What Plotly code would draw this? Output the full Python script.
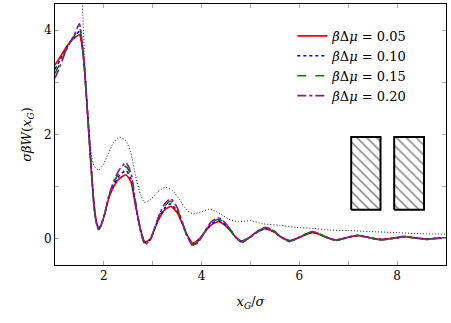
import plotly.graph_objects as go

x = [1.0, 1.1, 1.2, 1.3, 1.4, 1.5, 1.55, 1.6, 1.65, 1.7, 1.75, 1.8, 1.85, 1.9, 2.0, 2.1, 2.2, 2.3,
     2.45, 2.55, 2.65, 2.75, 2.84, 2.95, 3.05, 3.15, 3.25, 3.37, 3.5, 3.6, 3.7, 3.82, 3.95, 4.1,
     4.2, 4.35, 4.5, 4.6, 4.7, 4.82, 5.0, 5.1, 5.3, 5.5, 5.6, 5.8, 6.0, 6.1, 6.27, 6.45, 6.55,
     6.75, 6.95, 7.05, 7.2, 7.4, 7.5, 7.68, 7.9, 8.0, 8.15, 8.35, 8.45, 8.6, 8.8, 9.0]

w_005 = [3.33, 3.48, 3.63, 3.76, 3.85, 3.91, 3.72, 3.3, 2.65, 1.95, 1.25, 0.65, 0.32, 0.2, 0.42,
         0.78, 1.0, 1.14, 1.23, 1.1, 0.62, 0.18, -0.06, 0.0, 0.22, 0.42, 0.56, 0.62, 0.5, 0.3,
         0.08, -0.08, 0.0, 0.17, 0.27, 0.33, 0.24, 0.14, 0.03, -0.04, 0.04, 0.11, 0.19, 0.12,
         0.05, -0.03, 0.03, 0.07, 0.12, 0.07, 0.03, -0.02, 0.02, 0.04, 0.06, 0.03, 0.01, -0.01,
         0.01, 0.02, 0.04, 0.02, 0.01, 0.0, 0.01, 0.02]
w_010 = [3.25, 3.42, 3.6, 3.76, 3.87, 3.98, 3.76, 3.3, 2.63, 1.93, 1.23, 0.63, 0.3, 0.19, 0.42,
         0.8, 1.03, 1.19, 1.31, 1.16, 0.65, 0.17, -0.07, -0.01, 0.23, 0.45, 0.6, 0.67, 0.53, 0.31,
         0.07, -0.1, -0.02, 0.18, 0.29, 0.35, 0.26, 0.15, 0.03, -0.05, 0.04, 0.11, 0.2, 0.13,
         0.05, -0.04, 0.03, 0.07, 0.13, 0.07, 0.03, -0.02, 0.02, 0.04, 0.06, 0.03, 0.01, -0.01,
         0.01, 0.02, 0.04, 0.02, 0.01, 0.0, 0.01, 0.02]
w_015 = [3.17, 3.36, 3.57, 3.75, 3.9, 4.05, 3.78, 3.3, 2.62, 1.92, 1.22, 0.62, 0.29, 0.18, 0.42,
         0.81, 1.07, 1.25, 1.39, 1.22, 0.68, 0.16, -0.09, -0.02, 0.24, 0.48, 0.64, 0.72, 0.57, 0.33,
         0.06, -0.12, -0.03, 0.19, 0.31, 0.38, 0.28, 0.16, 0.03, -0.06, 0.04, 0.12, 0.21, 0.14,
         0.05, -0.05, 0.03, 0.08, 0.14, 0.08, 0.03, -0.03, 0.02, 0.05, 0.07, 0.03, 0.01, -0.02,
         0.01, 0.03, 0.05, 0.02, 0.01, -0.01, 0.01, 0.02]
w_020 = [3.08, 3.3, 3.55, 3.75, 3.92, 4.12, 3.8, 3.3, 2.6, 1.9, 1.2, 0.6, 0.28, 0.17, 0.42,
         0.82, 1.1, 1.3, 1.46, 1.28, 0.7, 0.15, -0.1, -0.02, 0.24, 0.5, 0.68, 0.77, 0.6, 0.34,
         0.06, -0.13, -0.04, 0.2, 0.33, 0.4, 0.29, 0.16, 0.03, -0.07, 0.04, 0.12, 0.22, 0.14,
         0.05, -0.05, 0.03, 0.08, 0.14, 0.08, 0.03, -0.03, 0.02, 0.05, 0.07, 0.03, 0.01, -0.02,
         0.01, 0.03, 0.05, 0.02, 0.01, -0.01, 0.01, 0.02]

x_ref = [1.5, 1.56, 1.6, 1.65, 1.7, 1.75, 1.8, 1.9, 2.0, 2.1, 2.2, 2.32, 2.45, 2.55, 2.65, 2.75,
         2.83, 2.95, 3.1, 3.26, 3.4, 3.55, 3.7, 3.83, 4.0, 4.16, 4.35, 4.55, 4.75, 5.0, 5.25,
         5.6, 5.94, 6.3, 6.62, 7.0, 7.44, 8.0, 8.5, 9.0]
w_ref = [5.5, 4.48, 3.6, 2.7, 2.05, 1.6, 1.4, 1.32, 1.45, 1.65, 1.85, 1.95, 1.88, 1.65, 1.2, 0.85,
         0.7, 0.75, 0.9, 0.99, 0.93, 0.75, 0.55, 0.48, 0.52, 0.57, 0.5, 0.38, 0.33, 0.35, 0.29,
         0.26, 0.22, 0.2, 0.17, 0.16, 0.14, 0.12, 0.1, 0.09]

labels = ["<i>β</i>Δ<i>μ</i> = 0.05", "<i>β</i>Δ<i>μ</i> = 0.10",
          "<i>β</i>Δ<i>μ</i> = 0.15", "<i>β</i>Δ<i>μ</i> = 0.20"]
series = [w_005, w_010, w_015, w_020]
colors = ["#ff0000", "#0000ff", "#008000", "#8b1a8b"]
dashes = ["solid", "dot", "dash", "dashdot"]

# inset illustration: two hatched slabs
slab_x = [[7.06, 7.66], [7.94, 8.55]]
slab_y = [0.56, 1.95]

x_ticks = [1, 2, 3, 4, 5, 6, 7, 8, 9]
x_ticktext = ["", "2", "", "4", "", "6", "", "8", ""]
y_ticks = [0, 1, 2, 3, 4]
y_ticktext = ["0", "", "2", "", "4"]

FONT = "DejaVu Serif"

fig = go.Figure()
fig.add_trace(go.Scatter(x=x_ref, y=w_ref, mode="lines", showlegend=False,
                         line=dict(color="#222222", width=1, dash="1px,2px", shape="spline", smoothing=0.6)))
for ys, lab, c, d in zip(series, labels, colors, dashes):
    fig.add_trace(go.Scatter(x=x, y=ys, mode="lines", name=lab,
                             line=dict(color=c, width=1.6, dash=d, shape="spline", smoothing=0.6)))

for (x0, x1) in slab_x:
    fig.add_trace(go.Scatter(x=[x0, x1, x1, x0, x0], y=[slab_y[0], slab_y[0], slab_y[1], slab_y[1], slab_y[0]],
                             mode="lines", fill="toself", showlegend=False, hoverinfo="skip",
                             fillcolor="white",
                             fillpattern=dict(shape="\\", fgcolor="black", bgcolor="white", size=7, solidity=0.22),
                             line=dict(color="black", width=2)))

fig.update_layout(
    width=451, height=323,
    margin=dict(l=55, r=5, t=4, b=58),
    paper_bgcolor="white", plot_bgcolor="white",
    font=dict(family=FONT, size=12, color="black"),
    legend=dict(x=0.607, y=0.935, xanchor="left", yanchor="top", bgcolor="rgba(255,255,255,0)",
                font=dict(family=FONT, size=13), itemwidth=30),
    xaxis=dict(range=[1, 9], tickvals=x_ticks, ticktext=x_ticktext, ticks="inside", ticklen=4,
               tickcolor="#aaaaaa", showgrid=False, zeroline=False, showline=True, linecolor="black",
               linewidth=1, mirror="allticks",
               title=dict(text="<i>x</i><sub><i>G</i></sub>/<i>σ</i>", font=dict(size=13), standoff=14)),
    yaxis=dict(range=[-0.5, 4.5], tickvals=y_ticks, ticktext=y_ticktext, ticks="inside", ticklen=4,
               tickcolor="#aaaaaa", showgrid=False, zeroline=False, showline=True, linecolor="black",
               linewidth=1, mirror="allticks",
               title=dict(text="<i>σβW</i>(<i>x</i><sub><i>G</i></sub>)", font=dict(size=13), standoff=9)),
)

fig.write_html("out.html")
